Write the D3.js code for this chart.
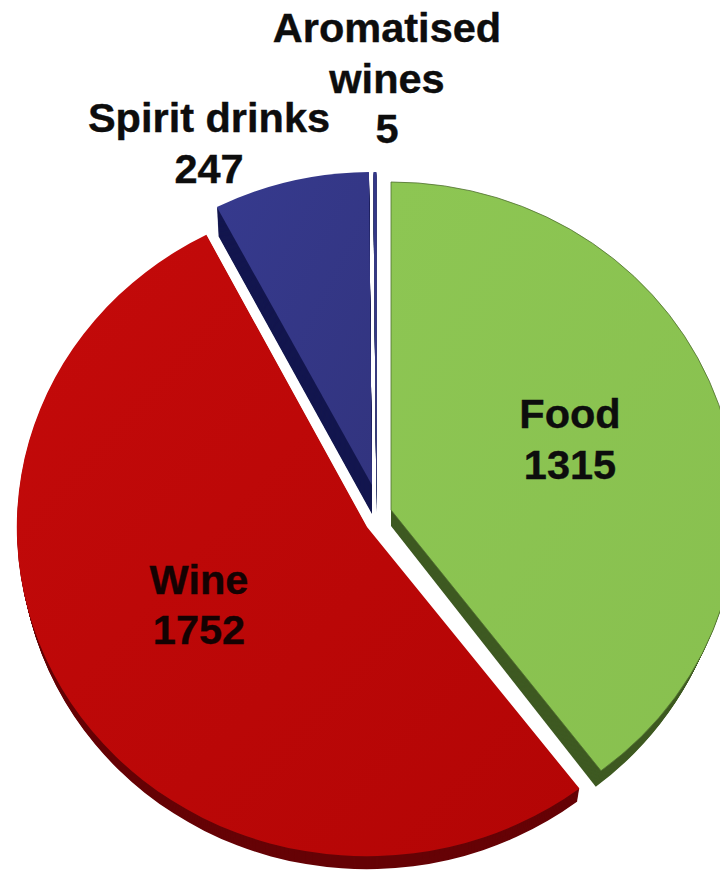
<!DOCTYPE html>
<html><head><meta charset="utf-8">
<script src="https://cdn.jsdelivr.net/npm/d3@7/dist/d3.min.js"></script>
<style>html,body{margin:0;padding:0;background:#fff}svg{display:block}</style>
</head><body><svg id="c" width="720" height="870"></svg>
<script>
const categories = ["Food","Wine","Spirit drinks","Aromatised wines"];
const values = [1315,1752,247,5];
const faceTop = ["#8dc653","#c40a0a","#363a8e","#343888"];
const faceBottom = ["#88c04f","#b30505","#32347f","#343888"];
const sideColors = ["#3f5a22","#660306","#14174f","#3c3f70"];
const edgeColors = ["#4f6f30","none","none","none"];
const labelLines = [["Food","1315"],["Wine","1752"],["Spirit drinks","247"],["Aromatised","wines","5"]];

// layout of each exploded slice: centre x, centre y, radius x, radius y, depth, side shrink
const layout = [
  [391,510,346,328,16,0.975],
  [367,527,350,329,13,0.99],
  [372,485,338,313,29,0.99],
  [376.5,485,338,313,29,1]
];
const labelPos = [[570,428],[199,593.5],[209,132],[387,42]];
const lineGap = 50.5;

const svg = d3.select("#c");
const defs = svg.append("defs");
categories.forEach((c,i)=>{
  const g = defs.append("linearGradient").attr("id","g"+i).attr("x1",0).attr("y1",0).attr("x2",1).attr("y2",1);
  g.append("stop").attr("offset","0%").attr("stop-color",faceTop[i]);
  g.append("stop").attr("offset","100%").attr("stop-color",faceBottom[i]);
});
const pie = d3.pie().sort(null).value(d=>d);
const arcs = pie(values);
const arc = d3.arc().innerRadius(0).outerRadius(1);
[2,3,0,1].forEach(i=>{
  const [cx,cy,rx,ry,depth,shrink] = layout[i];
  const g = svg.append("g");
  d3.range(depth,0,-1).forEach(d=>{
    const kx = rx*(1-(1-shrink)*d/depth);
    g.append("path").attr("d",arc(arcs[i]))
     .attr("transform",`translate(${cx},${cy+d}) scale(${kx},${ry})`)
     .attr("fill",sideColors[i]);
  });
  g.append("path").attr("d",arc(arcs[i]))
    .attr("transform",`translate(${cx},${cy}) scale(${rx},${ry})`)
    .attr("fill",`url(#g${i})`)
    .attr("stroke",edgeColors[i]).attr("stroke-width",0.8)
    .attr("vector-effect","non-scaling-stroke");
});
labelLines.forEach((lines,i)=>{
  const [x,y]=labelPos[i];
  const t = svg.append("text").attr("text-anchor","middle")
    .attr("font-family","'Liberation Sans',Arial,sans-serif").attr("font-weight","bold")
    .attr("font-size",41.5).attr("fill",i===1?"#140202":"#0d0d0d")
    .attr("stroke",i===1?"#140202":"#0d0d0d").attr("stroke-width",0.4);
  lines.forEach((l,j)=>t.append("tspan").attr("x",x).attr("y",y+j*lineGap).text(l));
});
</script></body></html>
